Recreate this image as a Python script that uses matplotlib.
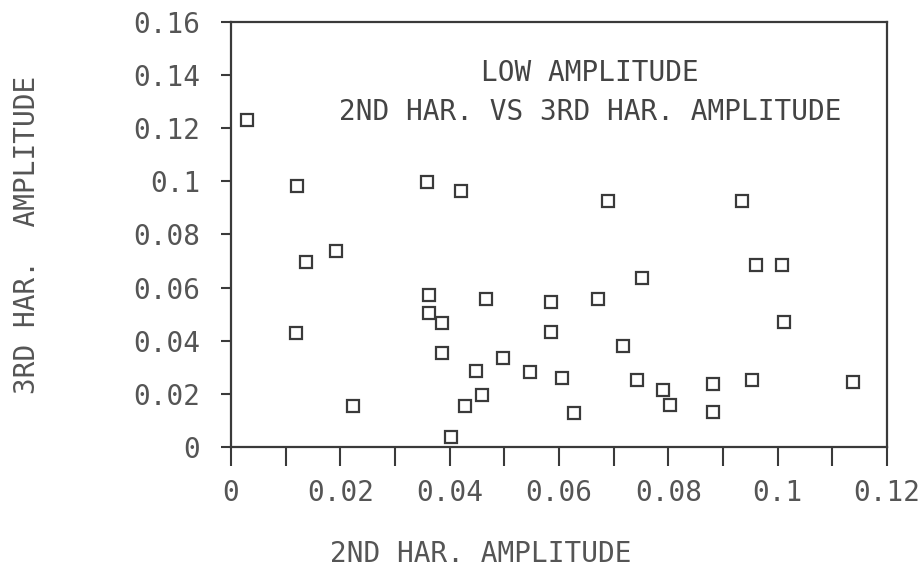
import numpy as np
import matplotlib.pyplot as plt

# 2nd harmonic amplitude (x) vs 3rd harmonic amplitude (y)
har2 = [0.003, 0.0121, 0.0358, 0.042, 0.0137, 0.0192, 0.0363, 0.0363, 0.0386,
        0.0467, 0.0118, 0.0386, 0.0497, 0.0449, 0.0459, 0.0428, 0.0224, 0.0402,
        0.0547, 0.0586, 0.0586, 0.069, 0.0935, 0.0961, 0.1008, 0.0751, 0.0672,
        0.1012, 0.0717, 0.0605, 0.0742, 0.079, 0.0803, 0.0882, 0.0882, 0.0953,
        0.1138, 0.0628]
har3 = [0.123, 0.0984, 0.0997, 0.0962, 0.0698, 0.0738, 0.0573, 0.0506, 0.0466,
        0.0556, 0.0428, 0.0353, 0.0336, 0.0286, 0.0196, 0.0154, 0.0156, 0.0039,
        0.0284, 0.0547, 0.0434, 0.0924, 0.0924, 0.0686, 0.0686, 0.0635, 0.0556,
        0.0472, 0.038, 0.0261, 0.0252, 0.0215, 0.0158, 0.0236, 0.0133, 0.0252,
        0.0246, 0.0129]

xticks = [0, 0.02, 0.04, 0.06, 0.08, 0.1, 0.12]
xticklabels = ['0', '0.02', '0.04', '0.06', '0.08', '0.1', '0.12']
yticks = [0, 0.02, 0.04, 0.06, 0.08, 0.1, 0.12, 0.14, 0.16]
yticklabels = ['0', '0.02', '0.04', '0.06', '0.08', '0.1', '0.12', '0.14', '0.16']

font = 'DejaVu Sans Mono'
fs = 20
txt_col = '#555555'
line_col = '#3a3a3a'

fig = plt.figure(figsize=(9.24, 5.76), dpi=100)
ax = fig.add_axes([0.25, 0.224, 0.71, 0.738])

ax.plot(har2, har3, 's', markersize=9, markerfacecolor='none',
        markeredgecolor=line_col, markeredgewidth=1.6)

ax.set_xlim(0, 0.12)
ax.set_ylim(0, 0.16)

ax.set_xticks(xticks)
ax.set_xticklabels(xticklabels, fontfamily=font, fontsize=fs, color=txt_col)
ax.set_xticks(np.arange(0.01, 0.12, 0.02), minor=True)
ax.set_yticks(yticks)
ax.set_yticklabels(yticklabels, fontfamily=font, fontsize=fs, color=txt_col)

ax.tick_params(axis='x', which='both', direction='out', length=14, width=1.5,
               color=line_col, pad=9)
ax.tick_params(axis='y', direction='out', length=7, width=1.5,
               color=line_col, pad=15)

for s in ax.spines.values():
    s.set_color(line_col)
    s.set_linewidth(1.6)

ax.set_xlabel('2ND HAR. AMPLITUDE', fontfamily=font, fontsize=fs, color=txt_col)
ax.xaxis.set_label_coords(0.38, -0.22)
ax.set_ylabel('3RD HAR.  AMPLITUDE', fontfamily=font, fontsize=fs, color=txt_col)
ax.yaxis.set_label_coords(-0.29, 0.5)

ax.text(0.547, 0.88, 'LOW AMPLITUDE', transform=ax.transAxes, ha='center',
        va='center', fontfamily=font, fontsize=fs, color='#444444')
ax.text(0.547, 0.788, '2ND HAR. VS 3RD HAR. AMPLITUDE', transform=ax.transAxes,
        ha='center', va='center', fontfamily=font, fontsize=fs, color='#444444')

fig.savefig('out.png', dpi=100)
